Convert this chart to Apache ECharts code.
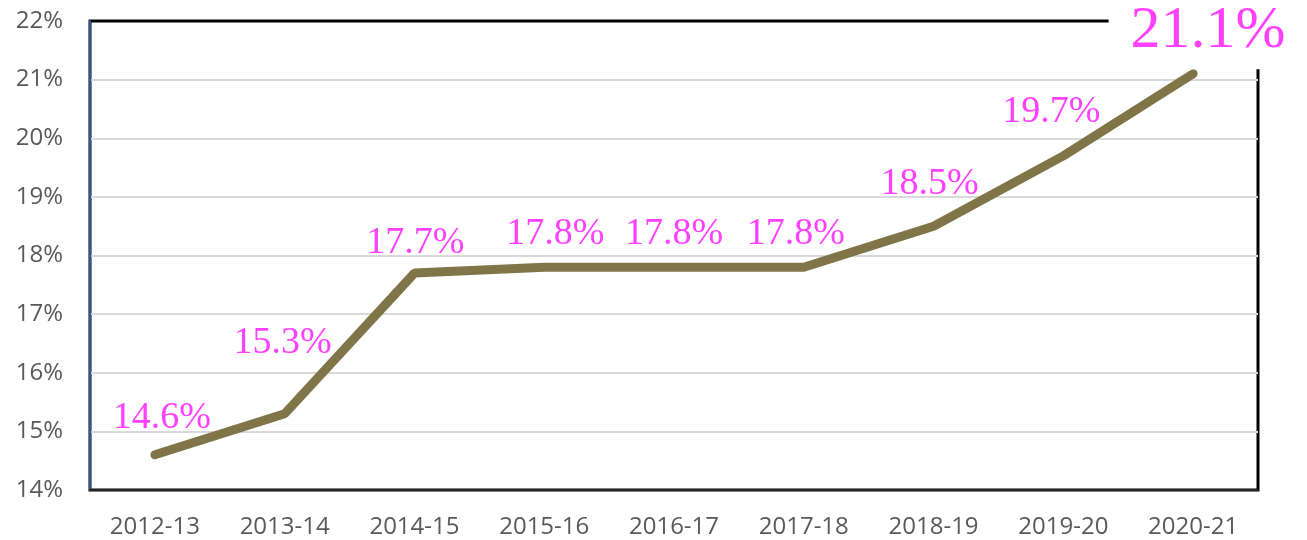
<!DOCTYPE html>
<html>
<head>
<meta charset="utf-8">
<script src="https://cdn.jsdelivr.net/npm/echarts@6/dist/echarts.min.js"></script>
<style>
  html, body { margin: 0; padding: 0; background: #fff; }
  #chart { width: 1307px; height: 540px; }
</style>
</head>
<body>
<div id="chart"></div>
<script>
const years = ['2012-13', '2013-14', '2014-15', '2015-16', '2016-17', '2017-18', '2018-19', '2019-20', '2020-21']
const share = [14.6, 15.3, 17.7, 17.8, 17.8, 17.8, 18.5, 19.7, 21.1]
const yTicks = [14, 15, 16, 17, 18, 19, 20, 21, 22]

// label nudges
const labelOffsets = [[7, -17], [-2, -51], [1, -11], [11, -14], [0, -14], [-8, -14], [-4, -23], [-12, -24], [16, -4]]

const chart = echarts.init(document.getElementById('chart'))
const lineColor = '#7F7548'
const pink = '#FF40FF'

const option = {
  backgroundColor: '#fff',
  animation: false,
  grid: {
    left: 90,
    right: 49,
    top: 21,
    bottom: 50,
    show: true,
    borderColor: '#000',
    borderWidth: 3,
  },
  xAxis: {
    type: 'category',
    data: years,
    boundaryGap: true,
    axisLine: { lineStyle: { color: '#262626', width: 2 } },
    axisTick: { show: false },
    axisLabel: { color: '#595959', fontSize: 24, fontFamily: 'Open Sans', margin: 25 },
  },
  yAxis: {
    type: 'value',
    min: yTicks[0],
    max: yTicks[yTicks.length - 1],
    interval: 1,
    axisLine: { show: true, lineStyle: { color: '#2F5597', width: 2 } },
    axisTick: { show: false },
    axisLabel: { color: '#595959', fontSize: 24, fontFamily: 'Open Sans', margin: 27, formatter: '{value}%' },
    splitLine: { showMinLine: false, showMaxLine: false, lineStyle: { color: '#D9D9D9', width: 2 } },
  },
  series: [
    {
      type: 'line',
      data: share.map((v, i) => {
        const last = i === share.length - 1
        return {
          value: v,
          label: last
            ? {
                show: true,
                fontSize: 60,
                offset: labelOffsets[i],
                backgroundColor: '#fff',
                padding: [20, 24, 8, 22],
              }
            : { show: true, offset: labelOffsets[i] },
        }
      }),
      symbol: 'circle',
      symbolSize: 1,
      showSymbol: true,
      itemStyle: { color: lineColor },
      lineStyle: { color: lineColor, width: 9, cap: 'round', join: 'bevel' },
      label: {
        show: true,
        position: 'top',
        distance: 0,
        color: pink,
        fontSize: 38,
        fontFamily: 'Liberation Serif',
        formatter: p => p.value.toFixed(1) + '%',
      },
      z: 5,
    },
  ],
}

chart.setOption(option)
</script>
</body>
</html>
